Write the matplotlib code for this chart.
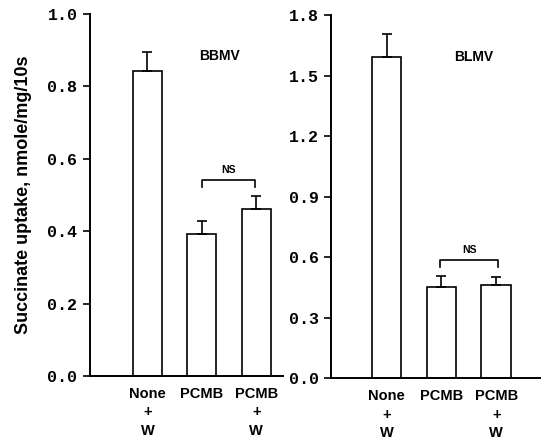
import matplotlib.pyplot as plt

categories = ['None\n+\nW', 'PCMB', 'PCMB\n+\nW']

bbmv_values = [0.843, 0.392, 0.461]
bbmv_errors = [0.052, 0.036, 0.036]

blmv_values = [1.592, 0.451, 0.461]
blmv_errors = [0.114, 0.055, 0.040]

tick_font = {'family': 'Liberation Mono', 'weight': 'bold', 'size': 12}
label_font = {'family': 'Liberation Sans', 'weight': 'bold'}

fig = plt.figure(figsize=(5.43, 4.44), dpi=100)
ax1 = fig.add_axes([0.1657, 0.1532, 0.355, 0.8153])
ax2 = fig.add_axes([0.6096, 0.1486, 0.385, 0.8176])


def draw_panel(ax, values, errors, ymax, yticks, xlim, width, title, title_xy, ns_y, ns_pair):
    x = list(range(len(values)))
    ax.bar(x, values, width=width, color='white', edgecolor='black', linewidth=1.2)
    ax.errorbar(x, values, yerr=[[0] * len(errors), errors], fmt='none',
                ecolor='black', elinewidth=1.2, capsize=3.5, capthick=1.2)
    ax.set_xlim(*xlim)
    ax.set_ylim(0, ymax)
    ax.set_yticks(yticks)
    ax.set_yticklabels([f'{t:.1f}' for t in yticks], fontdict=tick_font)
    ax.set_xticks(x)
    ax.set_xticklabels(categories, fontsize=10.5, linespacing=1.4, **label_font)
    ax.tick_params(axis='x', length=0, pad=8)
    ax.tick_params(axis='y', direction='out', length=5, width=1.2, pad=4)
    for side in ['top', 'right']:
        ax.spines[side].set_visible(False)
    ax.spines['left'].set_linewidth(1.4)
    ax.spines['bottom'].set_linewidth(1.4)

    ax.text(title_xy[0], title_xy[1], title, ha='center', va='center',
            fontsize=10, **label_font)

    # NS bracket
    a, b = ns_pair
    drop = ymax * 0.02
    ax.plot([a, a, b, b], [ns_y - drop, ns_y, ns_y, ns_y - drop],
            color='black', linewidth=1.2)
    ax.text((a + b) / 2, ns_y + ymax * 0.015, 'NS', ha='center', va='bottom',
            fontsize=7.5, **label_font)


draw_panel(ax1, bbmv_values, bbmv_errors, 1.0, [0.0, 0.2, 0.4, 0.6, 0.8, 1.0],
           (-1.055, 2.486), 0.53, 'BBMV', (1.33, 0.885), 0.541, (1.0, 1.97))
draw_panel(ax2, blmv_values, blmv_errors, 1.8, [0.0, 0.3, 0.6, 0.9, 1.2, 1.5, 1.8],
           (-1.014, 2.80), 0.54, 'BLMV', (1.58, 1.59), 0.585, (0.98, 2.04))

ax1.set_ylabel('Succinate uptake, nmole/mg/10s', fontsize=13, **label_font)
ax1.yaxis.set_label_coords(-0.30, 0.5)

plt.savefig('out.png')
